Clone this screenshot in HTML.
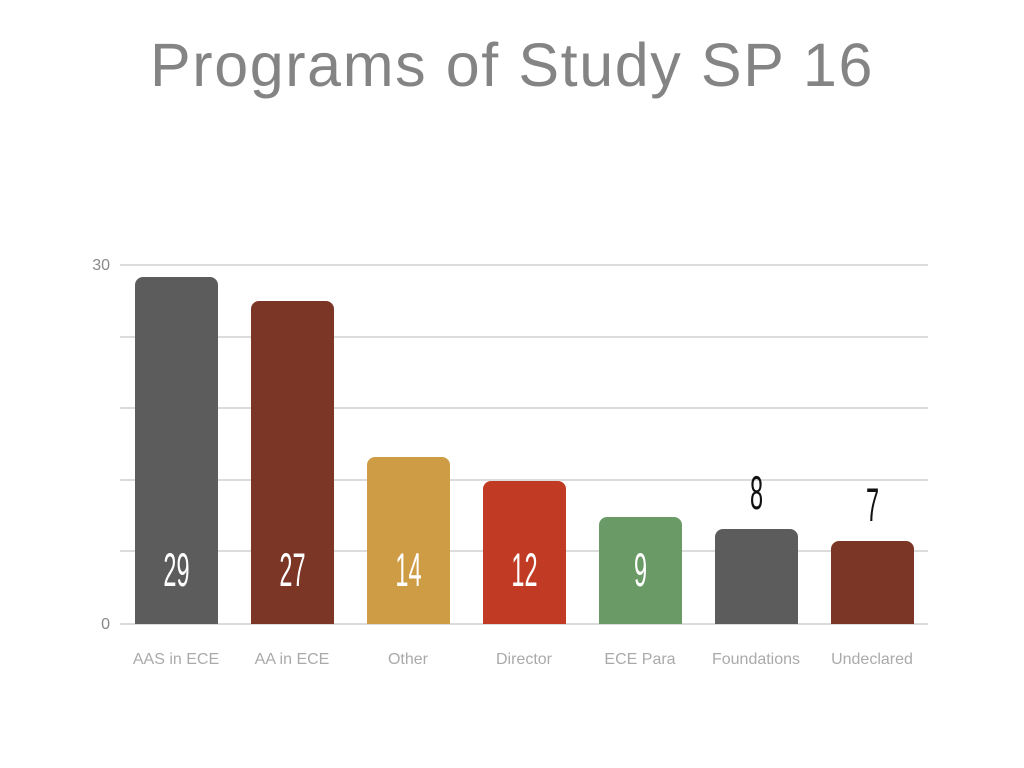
<!DOCTYPE html>
<html><head><style>
body{margin:0;width:1024px;height:768px;background:#fff;overflow:hidden;font-family:"Liberation Sans",sans-serif;position:relative}
.t{position:absolute;left:0;width:1024px;top:30px;text-align:center;font-size:61px;color:#848484;letter-spacing:1.6px}
.g{position:absolute;left:120px;width:808px;height:2px;background:#dcdcdc}
.b{position:absolute;width:83px;border-radius:8px 8px 0 0}
.n{position:absolute;width:83px;text-align:center;font-size:47px;transform:scaleX(0.5);font-weight:normal;line-height:47px}
.c{position:absolute;width:130px;text-align:center;font-size:16px;color:#aaa;top:651px}
.y{position:absolute;font-size:16px;color:#888;width:30px;text-align:right;left:80px}
</style></head><body>
<div class="t">Programs of Study SP 16</div>
<div class="g" style="top:264px"></div>
<div class="g" style="top:336px"></div>
<div class="g" style="top:407px"></div>
<div class="g" style="top:479px"></div>
<div class="g" style="top:550px"></div>
<div class="g" style="top:623px"></div>
<div class="y" style="top:257px">30</div>
<div class="y" style="top:616px">0</div>

<div class="b" style="left:135px;top:277px;height:347px;background:#5c5c5c"></div>
<div class="b" style="left:251px;top:301px;height:323px;background:#7b3626"></div>
<div class="b" style="left:367px;top:457px;height:167px;background:#cf9c46"></div>
<div class="b" style="left:483px;top:481px;height:143px;background:#c03a24"></div>
<div class="b" style="left:599px;top:517px;height:107px;background:#6a9a65"></div>
<div class="b" style="left:715px;top:529px;height:95px;background:#5c5c5c"></div>
<div class="b" style="left:831px;top:541px;height:83px;background:#7b3626"></div>

<div class="n" style="left:135px;top:546px;color:#fff">29</div>
<div class="n" style="left:251px;top:546px;color:#fff">27</div>
<div class="n" style="left:367px;top:546px;color:#fff">14</div>
<div class="n" style="left:483px;top:546px;color:#fff">12</div>
<div class="n" style="left:599px;top:546px;color:#fff">9</div>
<div class="n" style="left:715px;top:469px;color:#111">8</div>
<div class="n" style="left:831px;top:481px;color:#111">7</div>

<div class="c" style="left:111px">AAS in ECE</div>
<div class="c" style="left:227px">AA in ECE</div>
<div class="c" style="left:343px">Other</div>
<div class="c" style="left:459px">Director</div>
<div class="c" style="left:575px">ECE Para</div>
<div class="c" style="left:691px">Foundations</div>
<div class="c" style="left:807px">Undeclared</div>
</body></html>
